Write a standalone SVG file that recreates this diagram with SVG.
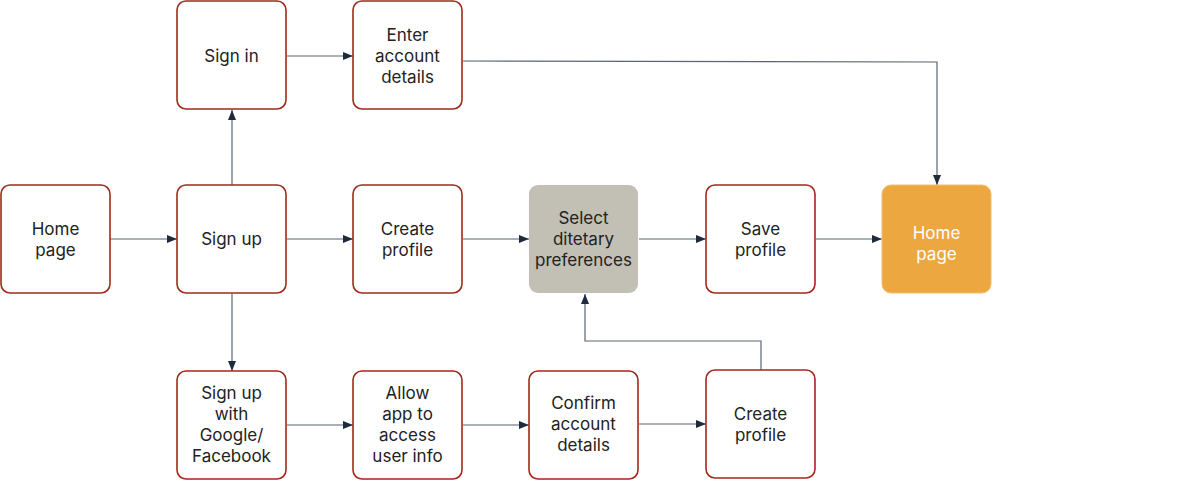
<svg xmlns="http://www.w3.org/2000/svg" width="1200" height="481" viewBox="0 0 1200 481">
<style>
.box{fill:#ffffff;stroke:#a3271b;stroke-width:1.6}
.grey{fill:#c2bfb4}
.orange{fill:#eda741;stroke:#f2bd6e;stroke-width:1}
text{font-family:Inter,"Noto Sans",sans-serif;font-size:17px;fill:#222222;text-anchor:middle}
.w{fill:#ffffff}
.c{fill:none;stroke:#5b6572;stroke-width:1.2}
</style>
<defs>
<marker id="ah" markerWidth="10" markerHeight="10" refX="10" refY="5" orient="auto" markerUnits="userSpaceOnUse" viewBox="0 0 10 10">
<path d="M0,1 L10,5 L0,9 Z" fill="#1d2b3d"/>
</marker>
</defs>
<rect width="1200" height="481" fill="#ffffff"/>
<g id="connectors">
<path class="c" d="M110,239 H177" marker-end="url(#ah)"/>
<path class="c" d="M232,185 V110" marker-end="url(#ah)"/>
<path class="c" d="M287,56 H353" marker-end="url(#ah)"/>
<path class="c" d="M463,61 L937,62 V185" marker-end="url(#ah)"/>
<path class="c" d="M287,239 H353" marker-end="url(#ah)"/>
<path class="c" d="M463,239 H529" marker-end="url(#ah)"/>
<path class="c" d="M639,239 H706" marker-end="url(#ah)"/>
<path class="c" d="M816,239 H882" marker-end="url(#ah)"/>
<path class="c" d="M232,294 V371" marker-end="url(#ah)"/>
<path class="c" d="M287,425 H353" marker-end="url(#ah)"/>
<path class="c" d="M463,425 H529" marker-end="url(#ah)"/>
<path class="c" d="M639,424 H706" marker-end="url(#ah)"/>
<path class="c" d="M761,370 V341 H585 V294" marker-end="url(#ah)"/>
</g>
<g id="home1"><rect class="box" x="1" y="185" width="109" height="108" rx="9"/><text x="55.5" y="235">Home</text><text x="55.5" y="256">page</text></g>
<g id="signup"><rect class="box" x="177" y="185" width="109" height="108" rx="9"/><text x="231.5" y="245">Sign up</text></g>
<g id="signin"><rect class="box" x="177" y="1" width="109" height="108" rx="9"/><text x="231.5" y="62">Sign in</text></g>
<g id="enter"><rect class="box" x="353" y="1" width="109" height="108" rx="9"/><text x="407.5" y="41">Enter</text><text x="407.5" y="62">account</text><text x="407.5" y="83">details</text></g>
<g id="create1"><rect class="box" x="353" y="185" width="109" height="108" rx="9"/><text x="407.5" y="235">Create</text><text x="407.5" y="256">profile</text></g>
<g id="select"><rect class="grey" x="529" y="185" width="109" height="108" rx="9"/><text x="583.5" y="224">Select</text><text x="583.5" y="245">ditetary</text><text x="583.5" y="266">preferences</text></g>
<g id="save"><rect class="box" x="706" y="185" width="109" height="108" rx="9"/><text x="760.5" y="235">Save</text><text x="760.5" y="256">profile</text></g>
<g id="home2"><rect class="orange" x="882" y="185" width="109" height="108" rx="9"/><text class="w" x="936.5" y="239">Home</text><text class="w" x="936.5" y="260">page</text></g>
<g id="google"><rect class="box" x="177" y="371" width="109" height="108" rx="9"/><text x="231.5" y="399">Sign up</text><text x="231.5" y="420">with</text><text x="231.5" y="441">Google/</text><text x="231.5" y="462">Facebook</text></g>
<g id="allow"><rect class="box" x="353" y="371" width="109" height="108" rx="9"/><text x="407.5" y="399">Allow</text><text x="407.5" y="420">app to</text><text x="407.5" y="441">access</text><text x="407.5" y="462">user info</text></g>
<g id="confirm"><rect class="box" x="529" y="371" width="109" height="108" rx="9"/><text x="583.5" y="409">Confirm</text><text x="583.5" y="430">account</text><text x="583.5" y="451">details</text></g>
<g id="create2"><rect class="box" x="706" y="370" width="109" height="108" rx="9"/><text x="760.5" y="420">Create</text><text x="760.5" y="441">profile</text></g>
</svg>
